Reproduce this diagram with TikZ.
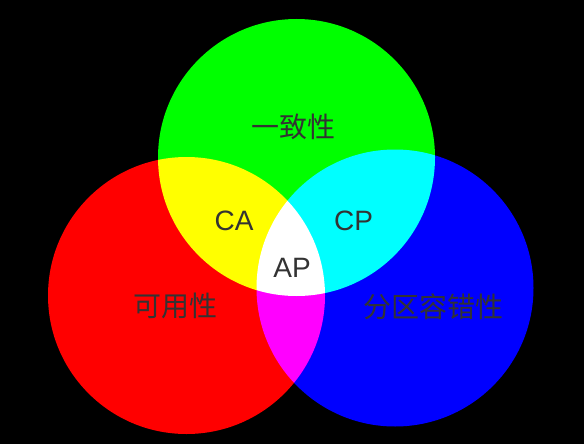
\documentclass[tikz,border=0pt]{standalone}
\usepackage{fontspec}
\setmainfont{Liberation Sans}
\newfontfamily\cjk{Noto Sans CJK SC}
\usetikzlibrary{positioning}
\definecolor{labelgray}{HTML}{333333}

\begin{document}
\begin{tikzpicture}[x=1pt,y=-1pt,line cap=round,line join=round,
  lbl/.style={text=labelgray,inner sep=0pt,anchor=base,font=\fontsize{28}{28}\selectfont},
  cjklbl/.style={lbl,font=\cjk\fontsize{28}{28}\selectfont}]
\fill[black] (0,0) rectangle (584,444);
\coordinate (g) at (296.5,157.5);
\coordinate (r) at (186.5,295.5);
\coordinate (b) at (395,288);
\begin{scope}[blend group=screen]
\fill[red] (r) circle (138.5pt);
\fill[green] (g) circle (138.5pt);
\fill[blue] (b) circle (138.5pt);
\end{scope}
\node[cjklbl] (consistency) at (293,137.5) {一致性};
\node[cjklbl] (availability) at (175,316.5) {可用性};
\node[cjklbl] (partition) at (433,317) {分区容错性};
\node[lbl] (ca) at (234,230) {CA};
\node[lbl] (cp) at (353.5,230) {CP};
\node[lbl] (ap) at (292,277) {AP};
\end{tikzpicture}
\end{document}
